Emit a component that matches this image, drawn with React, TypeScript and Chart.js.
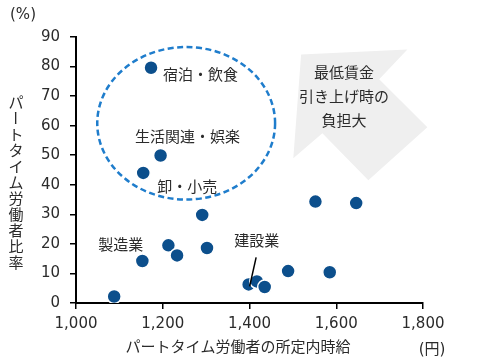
import React, { useEffect, useRef } from 'react';
import { Chart, registerables } from 'chart.js';

Chart.register(...registerables);

// ---- Data ----
const industries = [
  '', '製造業', '', '', '', '', '建設業', '', '', '', '', '', '', '宿泊・飲食', '生活関連・娯楽', '卸・小売',
];
const hourlyWage = [1088, 1153, 1213, 1233, 1291, 1302, 1398, 1417, 1435, 1489, 1552, 1585, 1646, 1173, 1195, 1155];
const partTimeRatio = [2.2, 14.2, 19.5, 16.1, 29.8, 18.6, 6.3, 7.3, 5.4, 10.8, 34.3, 10.4, 33.8, 79.6, 49.9, 44.0];

const xTicks = [1000, 1200, 1400, 1600, 1800];
const yTicks = [0, 10, 20, 30, 40, 50, 60, 70, 80, 90];

const yTitle = 'パートタイム労働者比率';
const xTitle = 'パートタイム労働者の所定内時給';
const arrowText = ['最低賃金', '引き上げ時の', '負担大'];

const FONT = "'DejaVu Sans', 'Noto Sans CJK JP', sans-serif";
const JFONT = "'Noto Sans CJK JP', sans-serif";
const TEXT = '#2b2b2b';

// label placement (pixel offsets from the labelled point)
const labelPlacement: Record<string, { dx: number; dy: number; align: CanvasTextAlign }> = {
  '宿泊・飲食': { dx: 12, dy: 7, align: 'left' },
  '生活関連・娯楽': { dx: 27, dy: -19, align: 'center' },
  '卸・小売': { dx: 14, dy: 13, align: 'left' },
  '製造業': { dx: 1, dy: -17, align: 'right' },
  '建設業': { dx: 8, dy: -44, align: 'center' },
};

// decorative shapes, in data coordinates
const ellipseCenter = { x: 1254, y: 60.8 };
const ellipseRadius = { x: 205, y: 25.8 };
const arrowShape = [
  [1519, 84.1], [1764, 85.8], [1699, 75.7], [1810, 59.5], [1674, 41.5], [1568, 57.4], [1501, 49.0],
];
const arrowTextCenter = { x: 1618, y: 78.2 };

const annotations = {
  id: 'annotations',
  beforeDatasetsDraw(chart: any) {
    const { ctx, scales } = chart;
    const xs = scales.x, ys = scales.y;
    ctx.save();
    // arrow
    ctx.beginPath();
    arrowShape.forEach(([x, y], i) => {
      const px = xs.getPixelForValue(x), py = ys.getPixelForValue(y);
      if (i === 0) ctx.moveTo(px, py); else ctx.lineTo(px, py);
    });
    ctx.closePath();
    ctx.fillStyle = '#efefef';
    ctx.fill();
    // arrow text
    ctx.fillStyle = TEXT;
    ctx.font = `15px ${JFONT}`;
    ctx.textAlign = 'center';
    ctx.textBaseline = 'middle';
    const cx = xs.getPixelForValue(arrowTextCenter.x);
    const cy = ys.getPixelForValue(arrowTextCenter.y);
    arrowText.forEach((t, i) => ctx.fillText(t, cx, cy + i * 24));
    // ellipse
    const ex = xs.getPixelForValue(ellipseCenter.x), ey = ys.getPixelForValue(ellipseCenter.y);
    const rx = Math.abs(xs.getPixelForValue(ellipseCenter.x + ellipseRadius.x) - ex);
    const ry = Math.abs(ys.getPixelForValue(ellipseCenter.y + ellipseRadius.y) - ey);
    ctx.beginPath();
    ctx.ellipse(ex, ey, rx, ry, 0, 0, Math.PI * 2);
    ctx.setLineDash([6, 3.5]);
    ctx.lineWidth = 2.5;
    ctx.strokeStyle = '#1f7dcc';
    ctx.stroke();
    ctx.restore();
  },
  afterDatasetsDraw(chart: any) {
    const { ctx, scales } = chart;
    const xs = scales.x, ys = scales.y;
    ctx.save();
    ctx.fillStyle = TEXT;
    ctx.font = `15px ${JFONT}`;
    ctx.textBaseline = 'middle';
    industries.forEach((name, i) => {
      if (!name) return;
      const p = labelPlacement[name];
      const px = xs.getPixelForValue(hourlyWage[i]);
      const py = ys.getPixelForValue(partTimeRatio[i]);
      ctx.textAlign = p.align;
      ctx.fillText(name, px + p.dx, py + p.dy);
      if (name === '建設業') {
        ctx.beginPath();
        ctx.moveTo(px + 7.5, py - 27);
        ctx.lineTo(px + 1, py + 2);
        ctx.lineWidth = 1.5;
        ctx.strokeStyle = '#000';
        ctx.stroke();
      }
    });
    ctx.restore();
  },
  afterDraw(chart: any) {
    const { ctx } = chart;
    ctx.save();
    ctx.fillStyle = TEXT;
    ctx.textBaseline = 'middle';
    ctx.textAlign = 'center';
    ctx.font = `15px ${FONT}`;
    ctx.fillText('(%)', 23, 15);
    ctx.fillText('(円)', 432, 350);
    ctx.font = `15px ${JFONT}`;
    ctx.fillText(xTitle, 238, 346);
    // vertical y title
    const chars = Array.from(yTitle);
    chars.forEach((c, i) => {
      const y = 102 + i * 16;
      if (c === 'ー') {
        ctx.save();
        ctx.translate(16, y);
        ctx.rotate(Math.PI / 2);
        ctx.fillText(c, 0, 0);
        ctx.restore();
      } else {
        ctx.fillText(c, 16, y);
      }
    });
    ctx.restore();
  },
};

export default function App() {
  const ref = useRef<HTMLCanvasElement | null>(null);
  useEffect(() => {
    if (!ref.current) return;
    const chart = new Chart(ref.current, {
      type: 'scatter',
      data: {
        datasets: [
          {
            data: hourlyWage.map((x, i) => ({ x, y: partTimeRatio[i] })),
            backgroundColor: '#0c4f8c',
            borderColor: '#ffffff',
            borderWidth: 1.5,
            pointRadius: 7,
            pointHoverRadius: 7,
          },
        ],
      },
      options: {
        responsive: false,
        animation: false,
        devicePixelRatio: 1,
        layout: { padding: { top: 37, right: 58, left: 0, bottom: 0 } },
        plugins: { legend: { display: false }, tooltip: { enabled: false } },
        scales: {
          x: {
            type: 'linear',
            min: xTicks[0],
            max: xTicks[xTicks.length - 1],
            afterBuildTicks: (s: any) => { s.ticks = xTicks.map((v) => ({ value: v })); },
            ticks: {
              color: TEXT,
              font: { family: FONT, size: 15 },
              padding: 6,
              maxRotation: 0,
              callback: (v: any) => Number(v).toLocaleString('en-US'),
            },
            grid: { drawOnChartArea: false, color: '#000', tickLength: 6, lineWidth: 1.5 },
            border: { color: '#000', width: 2 },
            afterFit: (s: any) => { s.height = 59; },
          },
          y: {
            min: yTicks[0],
            max: yTicks[yTicks.length - 1],
            afterBuildTicks: (s: any) => { s.ticks = yTicks.map((v) => ({ value: v })); },
            ticks: {
              color: TEXT,
              font: { family: FONT, size: 15 },
              padding: 10,
            },
            grid: { drawOnChartArea: false, color: '#000', tickLength: 6, lineWidth: 1.5 },
            border: { color: '#000', width: 2 },
            afterFit: (s: any) => { s.width = 76; },
          },
        },
      },
      plugins: [annotations],
    });
    return () => chart.destroy();
  }, []);
  return (
    <div style={{ position: 'absolute', left: 0, top: 0, width: 481, height: 362, background: '#fff' }}>
      <canvas ref={ref} width={481} height={362} style={{ width: 481, height: 362 }} />
    </div>
  );
}
